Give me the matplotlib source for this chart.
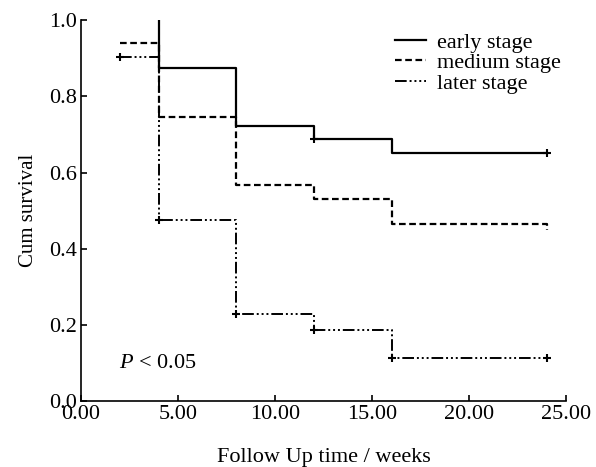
import matplotlib
matplotlib.use('Agg')
from matplotlib import pyplot as plt

plt.rcParams['font.family'] = ['Liberation Serif', 'DejaVu Serif']
plt.rcParams['mathtext.fontset'] = 'custom'
plt.rcParams['mathtext.it'] = 'Liberation Serif:italic'

# Kaplan-Meier step data
early_t = [4, 4, 8, 12, 16, 24]
early_s = [1.0, 0.875, 0.723, 0.687, 0.652, 0.652]
medium_t = [2, 4, 8, 12, 16, 24, 24]
medium_s = [0.940, 0.745, 0.567, 0.530, 0.466, 0.449, 0.449]
later_t = [2, 4, 8, 12, 16, 24]
later_s = [0.904, 0.475, 0.229, 0.186, 0.113, 0.113]

# censored marks
early_cens_t = [12, 24]
early_cens_s = [0.687, 0.652]
later_cens_t = [2, 4, 8, 12, 16, 24]
later_cens_s = [0.904, 0.475, 0.229, 0.186, 0.113, 0.113]

labels = ['early stage', 'medium stage', 'later stage']
xticks = [0, 5, 10, 15, 20, 25]
yticks = [0, 0.2, 0.4, 0.6, 0.8, 1.0]

fig = plt.figure(figsize=(5.96, 4.67), dpi=100)
ax = fig.add_axes([0.136, 0.141, 0.814, 0.816])

ls_medium = (0, (3, 1.6))
ls_later = (0, (6, 1.5, 1, 1.5, 1, 1.5, 1, 1.5))

ax.step(early_t, early_s, where='post', color='black', lw=1.6, label=labels[0])
ax.step(medium_t, medium_s, where='post', color='black', lw=1.6, linestyle=ls_medium, label=labels[1])
ax.step(later_t, later_s, where='post', color='black', lw=1.4, linestyle=ls_later, label=labels[2])

ax.plot(early_cens_t, early_cens_s, '+', color='black', ms=6, mew=1.5)
ax.plot(later_cens_t, later_cens_s, '+', color='black', ms=6, mew=1.5)

ax.set_xlim(0, 25)
ax.set_ylim(0, 1.0)
ax.set_xticks(xticks)
ax.set_xticklabels(['%.2f' % v for v in xticks])
ax.set_yticks(yticks)
ax.set_yticklabels(['%.1f' % v for v in yticks])
ax.tick_params(direction='in', length=4, width=1.2, labelsize=16)
ax.tick_params(axis='x', pad=3)
ax.tick_params(axis='y', pad=3)
ax.spines['top'].set_visible(False)
ax.spines['right'].set_visible(False)
ax.spines['left'].set_linewidth(1.2)
ax.spines['bottom'].set_linewidth(1.2)

ax.set_xlabel('Follow Up time / weeks', fontsize=16, labelpad=17)
ax.set_ylabel('Cum survival', fontsize=15, labelpad=8)

ax.text(1.95, 0.10, '$P$ < 0.05', fontsize=16, va='center')

ax.legend(loc='upper left', bbox_to_anchor=(0.61, 1.015), frameon=False, fontsize=16,
          handlelength=1.4, handletextpad=0.5, labelspacing=0.0, borderpad=0.3)

plt.savefig('out.png', dpi=100)
